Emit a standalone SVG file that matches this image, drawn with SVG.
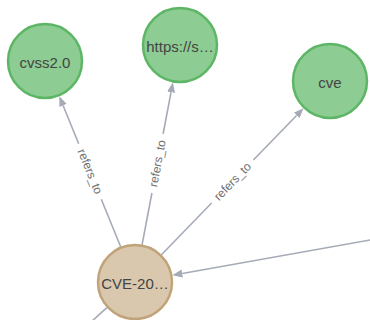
<svg xmlns="http://www.w3.org/2000/svg" width="370" height="320" viewBox="0 0 370 320">
  <style>
    .node-green circle { fill: #8DCC93; stroke: #5DB665; stroke-width: 2.5; }
    .node-tan circle { fill: #D9C8AE; stroke: #C0A378; stroke-width: 2.5; }
    .caption { font-family: "Liberation Sans", Arial, sans-serif; font-size: 15px; fill: #444444; text-anchor: middle; }
    .rel { stroke: #A5ABB6; stroke-width: 1.6; fill: none; }
    .rel-label { font-family: "Liberation Sans", Arial, sans-serif; font-size: 12px; fill: #707070; text-anchor: middle; }
  </style>
  <defs>
    <marker id="arrow" viewBox="0 -5 10 10" refX="0" refY="0" markerWidth="10" markerHeight="10" markerUnits="userSpaceOnUse" orient="auto">
      <path d="M0,-4 L10,0 L0,4 z" fill="#A5ABB6"/>
    </marker>
  </defs>
  <rect width="370" height="320" fill="#ffffff"/>

  <g id="connectors">
    <!-- CVE-20… to cvss2.0 -->
    <g id="rel-cvss">
      <path class="rel" d="M120.67,246.8 L101.3,199.3"/>
      <path class="rel" d="M78.7,143.7 L63.1,105.46" marker-end="url(#arrow)"/>
      <text class="rel-label" transform="translate(90,171.5) rotate(67.85)" x="0" y="4">refers_to</text>
    </g>
    <!-- CVE-20… to https://s… -->
    <g id="rel-https">
      <path class="rel" d="M142.09,244.67 L151.9,193.0"/>
      <path class="rel" d="M163.1,134.0 L171.05,92.16" marker-end="url(#arrow)"/>
      <text class="rel-label" transform="translate(157.5,163.5) rotate(-79.25)" x="0" y="4">refers_to</text>
    </g>
    <!-- CVE-20… to cve -->
    <g id="rel-cve">
      <path class="rel" d="M161.46,254.73 L211.6,203.0"/>
      <path class="rel" d="M253.4,160.0 L296.58,115.45" marker-end="url(#arrow)"/>
      <text class="rel-label" transform="translate(232.5,181.5) rotate(-45.86)" x="0" y="4">refers_to</text>
    </g>
    <!-- incoming from the right -->
    <path id="rel-in" class="rel" d="M390.9,236.2 L182.25,273.55" marker-end="url(#arrow)"/>
    <!-- outgoing to the lower left -->
    <path id="rel-out" class="rel" d="M106.88,307.57 L75.8,335.8"/>
  </g>

  <g id="node-cvss" class="node-green">
    <circle cx="45" cy="61" r="37"/>
    <text class="caption" x="45" y="68.3">cvss2.0</text>
  </g>
  <g id="node-https" class="node-green">
    <circle cx="180" cy="45" r="37"/>
    <text class="caption" x="180" y="52.3">https://s…</text>
  </g>
  <g id="node-cve" class="node-green">
    <circle cx="330" cy="81" r="37"/>
    <text class="caption" x="330" y="88.3">cve</text>
  </g>
  <g id="node-cve-20" class="node-tan">
    <circle cx="135" cy="282" r="37"/>
    <text class="caption" x="135" y="289.3">CVE-20…</text>
  </g>
</svg>
